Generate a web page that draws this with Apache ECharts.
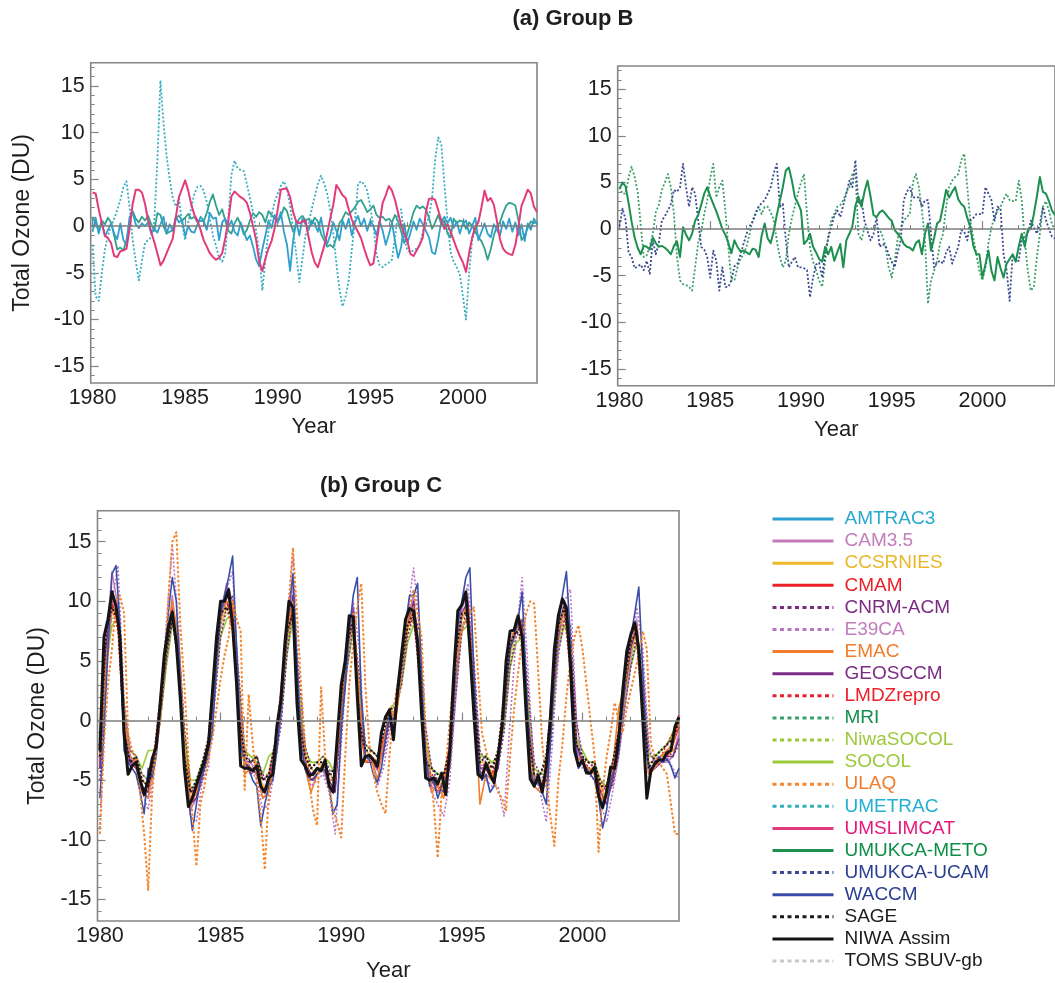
<!DOCTYPE html>
<html>
<head>
<meta charset="utf-8">
<title>Tropical total ozone anomalies</title>
<script src="https://cdn.jsdelivr.net/npm/echarts@6/dist/echarts.min.js"></script>
<style>
  html, body { margin: 0; padding: 0; background: #ffffff; }
  #chart { width: 1055px; height: 983px; }
</style>
</head>
<body>
<div id="chart"></div>
<script>
// ---------- sampling of the time series ----------
const START_YEAR = 1980;
const BIMONTHLY = 1 / 6;   // two-month samples
const QUARTERLY = 1 / 4;   // three-month samples

// ---------- axis ticks ----------
const yearTicks = [1980, 1985, 1990, 1995, 2000];
const yearMinorTicks = [1980, 1981, 1982, 1983, 1984, 1985, 1986, 1987, 1988, 1989, 1990, 1991,
  1992, 1993, 1994, 1995, 1996, 1997, 1998, 1999, 2000, 2001, 2002, 2003, 2004];
const ozoneTicks = [-15, -10, -5, 0, 5, 10, 15];
const ozoneMinorTicks = [-16, -15, -14, -13, -12, -11, -10, -9, -8, -7, -6, -5, -4, -3, -2, -1, 0,
  1, 2, 3, 4, 5, 6, 7, 8, 9, 10, 11, 12, 13, 14, 15, 16, 17];

// ---------- (a) Group B, left frame (DU, two-month samples) ----------
const umslimcat = [
  3.6, 3.5, 1.8, 0.3, -1.0, -1.3,
  -1.8, -3.2, -3.3, -2.7, -2.6, -2.4,
  -0.3, 2.4, 3.9, 3.9, 3.6, 2.4,
  0.6, -0.6, -1.7, -2.9, -4.2, -3.7,
  -2.9, -2.1, -1.3, 1.0, 3.1, 4.0,
  4.9, 3.8, 2.3, 1.2, 0.6, -0.4,
  -1.5, -2.2, -2.9, -3.3, -3.6, -3.4,
  -2.9, -1.3, 0.6, 3.2, 3.7, 3.4,
  3.1, 2.9, 2.5, 1.4, 0.0, -1.5,
  -3.8, -4.8, -3.5, -2.4, -1.6, -0.2,
  1.8, 3.9, 4.0, 4.0, 3.1, 1.5,
  0.5, 0.3, 0.5, 0.6, -1.2, -2.8,
  -3.9, -4.4, -3.3, -2.2, -0.8, 0.8,
  2.3, 4.4, 3.9, 3.3, 3.0, 1.8,
  0.7, 0.0, -0.6, -1.3, -2.4, -3.4,
  -4.2, -4.0, -1.8, 0.4, 2.5, 3.3,
  4.3, 3.8, 2.8, 1.4, 0.1, -0.8,
  -1.6, -3.0, -3.2, -2.6, -2.0, -1.2,
  1.5, 2.9, 3.0, 2.8, 1.7, 0.6,
  -0.3, 0.2, -0.6, -1.5, -2.4, -3.2,
  -3.9, -4.9, -2.9, -1.2, -0.1, 0.4,
  2.0, 3.8, 2.7, 3.0, 2.3, 0.6,
  -1.4, -2.4, -2.8, -3.0, -3.1, -2.0,
  0.0, 2.2, 3.0, 3.9, 3.5, 2.1,
  1.5
];
const umetrac = [
  -2.0, -7.5, -8.0, -5.0, -2.5, -1.0,
  0.0, 0.8, 1.7, 2.8, 4.2, 4.8,
  2.0, -1.5, -3.8, -5.8, -3.7, -1.8,
  -1.5, -1.2, 0.5, 7.0, 15.6, 11.0,
  7.5, 5.0, 3.0, 2.1, 3.0, 0.2,
  -1.5, 0.4, 2.0, 3.5, 4.2, 4.3,
  3.8, 2.6, 0.8, -1.0, -2.1, -3.4,
  -3.8, -2.9, 1.0, 5.5, 7.0, 6.2,
  6.0, 5.9, 4.5, 3.0, 1.5, -0.5,
  -2.8, -6.9, -3.6, -0.5, 1.2, 2.6,
  3.5, 4.3, 4.8, 4.0, 2.2, -0.5,
  -3.0, -6.0, -3.5, -1.0, 0.3, 1.8,
  3.2, 4.5, 5.4, 4.6, 3.5, 1.7,
  -0.8, -4.0, -6.8, -8.6, -7.5, -5.8,
  -2.5, 0.5, 4.5, 4.8, 4.5, 3.8,
  2.0, 0.0, -3.0, -4.2, -4.4, -4.1,
  -3.9, -3.6, -1.2, 1.5, 1.8, -1.3,
  -2.6, -2.8, -2.6, -2.4, -2.0, -0.6,
  0.2, 1.0, 3.0, 7.1, 9.5, 8.8,
  4.5, 0.5, -2.8, -3.8, -4.4, -5.2,
  -7.5, -10.0, -5.0, -1.5, -0.3, 0.6,
  null, null, null, null, null, null,
  null, null, null, null, null, null,
  null, null, null, null, null, null,
  null
];
const amtrac3 = [
  -0.6, 0.9, -0.8, 0.5, -1.1, -0.4,
  0.3, -0.8, -1.4, 0.3, -1.5, -2.0,
  1.0, 1.4, 0.2, -0.2, 0.3, 0.0,
  0.4, -0.8, -0.3, -0.7, 0.2, 1.0,
  -0.8, 0.2, -0.5, 1.0, 0.4, 0.7,
  -1.1, 0.0, -0.6, -0.7, 0.2, 1.0,
  0.6, -0.4, 1.4, 0.8, 0.9, -1.5,
  0.4, 0.8, -0.1, 0.6, -0.6, -1.0,
  0.4, -0.6, -1.5, -1.0, -2.2, -3.6,
  -4.3, -2.5, -1.0, 0.6, -0.2, 1.2,
  0.4, 1.5, -0.6, -2.0, -4.8, -1.5,
  0.5, -1.0, 0.8, 0.2, -0.4, 0.6,
  0.2, -0.6, 0.9, -0.9, -1.9, -1.0,
  0.4, -0.5, -1.5, 0.6, -0.3, 0.8,
  -1.0, 0.4, 1.1, 0.0, 0.8, -0.5,
  0.6, 0.0, -1.0, 0.6, -0.5, -2.0,
  -0.9, 0.4, -1.6, -3.4, -2.2, 0.3,
  -1.8, -0.7, 0.5, -0.4, 0.8, 0.2,
  -0.5, -1.2, -2.8, -3.0, -1.4, 0.5,
  1.0, 0.3, 0.9, -0.2, 0.5, -0.8,
  0.3, 0.6, -0.8, 0.0, 0.9, -1.5,
  -0.6, 0.3, -0.8, -1.2, 0.2, -0.4,
  -1.0, 0.5, -0.3, 0.8, -0.6, 0.4,
  -1.0, 0.2, -1.6, 0.3, -0.4, 0.8,
  0.2
];
const groupBTeal = [
  1.0, 0.3, -0.5, 0.6, 0.2, 0.9,
  0.4, -1.0, -2.5, -2.3, -2.6, -1.5,
  0.5, 1.6, 0.8, 0.4, 1.0, 0.6,
  1.1, 0.2, -0.5, 1.4, 1.2, 0.0,
  -0.8, -0.6, -0.4, 0.9, 1.1, 0.6,
  0.9, 1.3, 0.8, 1.0, 0.4, 0.6,
  0.5, 1.4, 2.6, 3.4, 2.2, 1.2,
  1.8, 0.6, -0.5, -0.8, 0.3, 0.9,
  0.2, -0.9, -0.4, 0.6, 1.4, 1.0,
  1.5, 1.2, 0.4, 1.6, 1.2, 0.8,
  0.5, 1.0, 2.0, 1.6, 0.4, -0.6,
  0.2, 0.8, 1.1, 0.6, 0.8, 0.2,
  0.9, 0.5, -0.8, -1.5, -2.2, -2.0,
  -2.3, -1.2, 0.3, 0.8, 1.5, 1.2,
  1.6, 2.0, 2.6, 2.8, 2.2, 1.5,
  1.8, 2.2, 1.2, 0.9, 1.0, 0.6,
  0.8, 0.4, 1.2, 0.5, -0.6, -1.8,
  -0.8, 0.3, 1.5, 2.2, 1.9, 2.1,
  1.8, 0.9, -0.3, 0.4, 1.2, 0.2,
  0.6, -0.8, -1.2, 0.8, 0.3, 0.6,
  0.5, -0.3, 0.4, 0.0, -0.6, -1.2,
  -1.6, -2.4, -3.6, -2.5, -1.0, 0.0,
  0.4, 1.4, 2.2, 2.5, 2.4, 2.2,
  0.6, -1.5, -1.0, -0.2, 0.5, 0.3,
  0.5
];

// ---------- (a) Group B, right frame (DU, two-month samples) ----------
const umukcaMeto = [
  4.3, 5.0, 4.6, 2.8, 0.8, -0.9,
  -2.0, -2.7, -1.8, -1.9, -2.2, -0.9,
  -1.5, -1.9, -1.8, -2.0, -2.3, -2.7,
  -1.8, -1.3, -3.0, 0.2, -0.6, -1.2,
  -0.5, 0.9, 1.5, 2.6, 3.8, 4.5,
  3.5, 2.7, 1.9, 1.0, 0.0, -0.6,
  -1.5, -2.6, -1.2, -1.9, -2.4, -2.3,
  -2.5, -2.7, -2.1, -2.2, -3.0, -0.7,
  0.6, -1.0, -1.5, -0.2, 1.5, 3.0,
  4.5, 6.3, 6.6, 5.2, 3.4, 2.8,
  2.0, -1.6, -1.2, -0.5, -1.9, -2.5,
  -3.2, -3.5, -1.9, -2.7, -1.9, -3.4,
  -2.5, -1.6, -4.1, -1.2, -0.5, 0.3,
  2.5, 3.5, 2.4, 4.0, 5.2, 3.5,
  1.5, 1.3, 1.8, 2.0, 1.6, 1.2,
  0.9, -0.1, -0.5, -0.9, -1.6, -1.9,
  -2.0, -2.3, -1.5, -1.2, -2.7, -0.5,
  0.6, -2.3, -1.0, 0.6, 0.9, 2.5,
  4.2, 3.4, 4.0, 4.5, 3.2, 2.7,
  2.4, 1.2, 0.2, -1.8, -2.7, -2.7,
  -5.2, -3.8, -2.3, -4.5, -5.5, -3.0,
  -4.2, -5.2, -3.7, -3.2, -2.7, -3.5,
  -1.9, -0.5, -1.9, -0.1, 0.0, 1.6,
  3.5, 5.6, 4.0, 3.8, 3.0, 2.0,
  1.5
];
const umukcaUcam = [
  0.3, 2.2, 1.0, -2.5, -3.0, -4.2,
  -4.0, -3.8, -4.4, -3.4, -4.8, -1.2,
  -2.7, -1.5, 0.9, 1.4, 2.0, 2.7,
  4.2, 4.0, 4.5, 7.0, 4.5, 2.4,
  4.5, 3.8, 1.0, -1.9, -2.2, -3.0,
  -5.2, -2.3, -3.4, -6.6, -4.1, -6.2,
  -6.2, -5.5, -4.0, -3.7, -2.7, -1.6,
  -0.5, 0.3, 0.8, 1.6, 2.4, 2.8,
  3.1, 3.8, 4.5, 6.0, 7.0, 2.4,
  2.7, -1.2, -4.1, -3.5, -3.0, -4.1,
  -4.1, -4.2, -4.4, -7.3, -5.2, -3.8,
  -3.6, -5.2, -2.5, -1.0, 0.2, 1.4,
  2.0, 1.3, 2.6, 3.8, 5.2, 4.5,
  7.4, 2.7, 3.1, 0.9, -0.2, -1.2,
  -0.5, 1.3, -1.9, -1.6, -1.8, -2.7,
  -3.5, -4.1, -2.5, -1.2, 3.1, 4.0,
  4.5, 3.4, 3.4, 3.4, 2.4, 3.1,
  3.1, -0.5, -4.1, -3.6, -3.4, -3.7,
  -2.5, -1.9, -3.7, -2.8, -1.9, -0.1,
  -0.3, -1.2, 0.9, 1.2, 1.6, 1.6,
  1.6, 4.5, 3.8, 3.1, 0.9, 2.4,
  2.2, -2.7, -4.4, -7.7, -2.7, -3.4,
  -3.4, -1.2, -0.8, -0.5, 0.9, 0.2,
  -0.5, 0.5, 2.4, 1.0, 0.0, -0.8,
  -1.0
];
const mri = [
  4.5, 3.8, 3.8, 5.5, 6.7, 5.6,
  4.0, 0.5, -3.0, -2.8, -1.9, -0.5,
  1.8, 2.6, 4.2, 5.0, 5.9, 4.5,
  1.6, -3.0, -5.5, -5.9, -6.0, -6.2,
  -6.6, -4.1, -1.5, -0.3, 1.6, 3.1,
  5.5, 7.0, 3.4, 4.5, 5.2, 2.0,
  -2.0, -5.5, -5.5, -4.1, -3.2, -2.7,
  -1.9, -0.5, 0.9, 1.8, 2.4, 1.6,
  2.4, 2.4, 1.8, 1.0, -1.2, -3.0,
  -4.1, -3.4, -0.5, 1.2, 2.5, 3.8,
  5.0, 5.9, 1.6, -2.0, -3.5, -4.4,
  -5.5, -6.2, -3.4, -0.8, 1.0, 1.6,
  2.4, 2.6, 3.1, 4.0, 4.5, 5.9,
  5.9, -0.5, -1.2, 0.2, 0.0, 0.0,
  0.2, 0.0, 0.0, -0.8, -1.9, -4.1,
  -5.2, -3.4, -1.0, 0.2, 0.9, 1.3,
  1.6, 5.0, 5.9, 4.5, 2.0, -1.2,
  -8.0, -5.5, -4.5, -3.4, -1.5, -0.5,
  2.4, 4.5, 5.2, 5.6, 5.9, 7.4,
  8.1, 4.5, 0.9, -1.0, -2.7, -4.5,
  -5.5, -4.1, -1.5, 0.2, 1.3, 2.0,
  2.4, 3.2, 3.8, 3.1, 3.0, 3.0,
  5.2, 3.1, -1.2, -4.5, -6.6, -6.2,
  -3.0, -0.5, 2.4, 3.0, 2.0, 0.5,
  0.0
];

// ---------- (b) Group C (DU) ----------
// two-month samples
const niwaAssim = [
  -2.5, 7.0, 8.5, 10.8, 9.6, 7.0,
  -1.0, -4.5, -3.8, -3.5, -5.0, -6.2,
  -5.0, -3.2, -2.2, 1.5, 5.5, 7.8,
  9.1, 6.5, 1.8, -4.0, -7.2, -6.5,
  -5.4, -4.4, -3.4, -2.0, 2.5, 7.0,
  10.0, 10.0, 11.0, 8.0, 3.0, -3.8,
  -4.0, -4.0, -4.2, -3.8, -5.5, -6.0,
  -4.8, -4.5, -0.5, 1.7, 6.5, 10.0,
  9.5, 1.5, -3.3, -3.8, -4.6, -4.5,
  -4.0, -4.2, -3.3, -5.5, -6.0, -1.5,
  3.0, 5.0, 8.8, 8.7, 2.0, -3.8,
  -3.0, -2.9, -3.3, -3.8, -1.0, 0.3,
  0.9, -1.6, 2.5, 5.5, 8.5, 9.4,
  9.2, 6.5, 0.5, -4.8, -5.0, -4.8,
  -5.3, -4.4, -6.2, -2.5, 4.0, 9.2,
  9.7, 10.8, 6.0, 0.5, -4.5, -4.8,
  -3.6, -4.5, -5.2, -3.0, -0.5, 5.0,
  7.5, 7.6, 8.8, 7.0, 0.5, -4.9,
  -5.5, -4.6, -6.0, -3.8, 0.0, 6.0,
  8.8, 10.2, 9.5, 4.5, -2.5, -3.8,
  -3.3, -4.4, -4.4, -3.9, -6.3, -7.3,
  -6.0, -3.9, -4.0, -1.5, 2.5, 5.8,
  7.2, 8.2, 6.0, 0.0, -6.5, -4.2,
  -3.6, -3.3, -3.3, -2.7, -2.5, -0.5,
  0.3
];
const waccm = [
  -6.5, -1.0, 6.0, 12.3, 13.0, 8.0,
  -2.5, -3.5, -4.0, -4.5, -6.0, -7.8,
  -4.0, -4.8, -3.0, 0.5, 4.5, 9.0,
  12.0, 10.0, 3.0, -3.5, -6.5, -9.2,
  -7.0, -5.0, -4.0, -2.5, -1.0, 5.0,
  9.0, 10.5, 12.0, 13.8, 6.0, -2.0,
  -3.5, -4.0, -5.0, -5.5, -8.8, -7.0,
  -5.5, -5.0, -2.5, 1.0, 6.0, 9.5,
  12.3, 5.0, -2.0, -4.0, -4.8, -5.0,
  -4.5, -4.0, -4.2, -5.5, -7.8, -7.0,
  -1.0, 3.0, 7.5, 10.5, 12.0, 2.0,
  -3.0, -3.2, -4.5, -5.2, -4.0, -1.5,
  0.5, 0.0, 2.0, 5.0, 8.0, 10.5,
  10.5, 11.5, 4.0, -3.0, -5.5, -5.0,
  -6.5, -5.5, -5.0, -3.0, 2.0, 8.0,
  10.0, 12.0, 12.8, 4.0, -3.5, -5.0,
  -4.5, -6.0, -5.5, -3.5, -1.0, 3.0,
  6.0, 7.0, 8.5, 10.8, 3.0, -4.0,
  -5.5, -5.0, -6.0, -7.0, -2.0, 4.0,
  8.0, 10.5, 12.5, 7.0, -1.0, -4.0,
  -3.5, -4.0, -4.5, -5.0, -6.5, -9.0,
  -7.5, -5.0, -4.0, -2.5, 1.5, 5.0,
  7.0, 9.0, 11.2, 4.0, -3.0, -4.5,
  -3.5, -3.0, -3.5, -3.2, -3.8, -4.8,
  -4.0
];
const ulaq = [
  -9.5, -2.0, 3.0, 6.0, 10.0, 10.5,
  9.0, -1.0, -2.5, -3.0, -6.0, -9.5,
  -14.2, -6.0, -2.5, 0.0, 4.0, 10.0,
  15.0, 15.8, 8.0, 3.0, -3.0, -8.0,
  -12.2, -7.0, -5.5, -3.0, -1.5, 1.0,
  3.5, 5.5, 7.0, 10.0, 8.5, 7.5,
  -5.8, 2.2, -2.0, -5.0, -8.0, -12.5,
  -6.0, -4.0, -1.0, 2.5, 6.0, 10.0,
  14.5, 9.0, 3.0, -2.0, -5.0, -7.5,
  -8.8, 2.8, -3.0, -5.5, -7.5, -8.5,
  -9.8, -3.0, 3.0, 6.5, 9.5, 11.5,
  3.0, -2.0, -4.5, -6.0, -7.0, -7.8,
  -3.0, 1.0, 3.0, 5.0, 7.5, 9.5,
  11.0, 9.0, 7.0, -1.0, -4.0, -7.0,
  -11.5, -6.0, -4.0, 0.0, 3.5, 6.0,
  7.5, 8.5, 9.0, 9.5, 4.0, -1.0,
  -2.5, -4.0, -5.0, -6.0, -6.5, -7.5,
  -3.0, 1.0, 4.0, 7.0, 9.0, 10.0,
  9.8, 4.0, -2.0, -5.0, -8.0, -10.5,
  -5.0, -2.0, 2.0, 5.0, 7.0, 8.0,
  6.0, 3.0, 0.0, -3.0, -11.0, -6.0,
  -3.0, -1.0, 1.5, 0.0, -1.0, 1.0,
  2.5, 4.0, 5.5, 7.5, 6.0, -2.0,
  -3.0, -3.5, -4.0, -4.5, -7.0, -9.5,
  -9.5
];
// three-month samples
const sage = [
  -3.0, 7.5, 9.5, 8.5,  -1.0, -3.5, -3.0, -5.0,  -5.5, -3.0, 1.0, 6.0,  8.5, 5.0, -3.0, -6.0,
  -5.0, -3.5, -1.5, 4.0,  9.0, 9.5, 8.5, 0.5,  -3.0, -3.5, -3.0, -5.0,  -4.5, -2.0, 2.0, 7.5,
  9.0, 0.0, -3.0, -4.0,  -3.5, -3.5, -4.5, -4.0,  2.0, 6.5, 8.5, 0.0,  -2.5, -2.5, -3.0, -1.0,
  1.0, 1.0, 4.5, 8.0,  9.0, 4.5, -3.5, -4.0,  -4.5, -4.5, -2.5, 5.5,  9.0, 9.0, 2.0, -3.5,
  -3.0, -4.0, -2.5, 1.5,  6.5, 7.5, 7.0, -1.0,  -4.5, -4.5, -3.0, 2.5,  8.0, 9.5, 5.5, -2.0,
  -3.0, -3.5, -3.5, -5.5,  -5.5, -3.5, -1.0, 3.5,  6.5, 7.5, 1.5, -4.0,  -3.0, -2.5, -2.0, -1.5,
  0.0
];
const tomsSbuv = [
  -2.0, 7.5, 10.0, 8.0,  -1.5, -4.0, -3.5, -5.0,  -5.0, -2.5, 1.5, 6.5,  9.0, 4.0, -3.5, -6.5,
  -5.0, -3.5, -2.0, 4.5,  9.5, 10.0, 7.5, -0.5,  -4.0, -4.0, -3.5, -5.5,  -4.5, -2.5, 1.5, 8.0,
  9.0, -1.0, -3.5, -4.5,  -4.0, -3.5, -5.0, -3.5,  3.0, 7.0, 8.5, -1.0,  -3.0, -3.0, -3.5, -0.5,
  1.0, 0.5, 5.0, 8.5,  9.0, 3.5, -4.5, -4.5,  -5.0, -5.0, -2.5, 6.5,  9.5, 8.0, 0.5, -4.5,
  -3.5, -4.5, -3.0, 2.0,  7.0, 8.0, 7.0, -2.0,  -5.0, -5.0, -3.5, 3.0,  8.5, 9.5, 4.5, -3.0,
  -3.5, -4.0, -4.0, -6.5,  -6.0, -4.0, -1.5, 4.0,  7.0, 7.0, 0.0, -5.0,  -3.5, -3.0, -2.5, -1.5,
  0.5
];
const cam35 = [
  -4.0, 6.0, 12.5, 9.5,  -1.5, -3.8, -3.2, -5.8,  -6.5, -3.0, 1.0, 6.0,  10.5, 6.0, -3.0, -7.5,
  -6.5, -4.0, -2.5, 3.5,  9.0, 11.5, 10.0, 1.0,  -3.5, -3.5, -4.5, -6.5,  -6.0, -2.8, 1.0, 7.5,
  11.5, 1.0, -3.5, -4.5,  -4.5, -4.2, -5.5, -5.5,  1.5, 6.5, 9.5, 1.0,  -3.0, -3.0, -4.2, -2.0,
  0.0, 0.5, 4.5, 8.5,  10.5, 5.0, -3.5, -5.5,  -6.0, -5.5, -3.5, 5.0,  9.5, 10.5, 2.0, -4.0,
  -4.0, -5.0, -3.5, 1.0,  6.5, 8.0, 8.5, -0.5,  -5.0, -5.5, -5.5, 1.5,  7.5, 10.0, 6.5, -2.5,
  -3.5, -4.0, -4.5, -6.5,  -7.0, -4.5, -2.0, 3.0,  6.5, 8.5, 1.5, -4.5,  -3.8, -3.5, -3.5, -3.0,
  -1.0
];
const ccsrnies = [
  -3.0, 5.5, 9.0, 9.5,  0.5, -3.0, -3.5, -5.0,  -5.5, -3.5, 0.5, 5.5,  9.5, 7.5, -1.5, -6.0,
  -6.0, -4.5, -2.5, 2.5,  8.0, 9.5, 10.0, 3.0,  -3.0, -4.0, -4.0, -5.5,  -5.5, -3.0, 0.5, 6.5,
  10.0, 2.5, -3.0, -4.0,  -4.5, -3.5, -4.5, -5.0,  0.5, 5.5, 8.5, 3.0,  -2.5, -3.0, -3.5, -2.5,
  0.5, 0.0, 3.5, 7.5,  9.5, 6.5, -2.0, -5.0,  -5.5, -5.0, -3.5, 3.5,  8.5, 9.5, 3.5, -3.5,
  -3.5, -4.5, -3.5, 0.0,  5.5, 7.5, 8.0, 1.0,  -4.5, -5.0, -5.0, 0.5,  6.5, 9.0, 7.0, -1.5,
  -3.5, -4.0, -4.0, -5.5,  -6.5, -5.0, -2.5, 2.0,  5.5, 7.5, 3.0, -3.5,  -3.5, -3.0, -3.0, -2.5,
  -1.5
];
const cmam = [
  -3.5, 6.5, 10.0, 8.0,  -1.0, -3.5, -4.0, -5.5,  -6.0, -3.0, 1.0, 6.0,  9.5, 5.0, -3.5, -7.0,
  -6.0, -4.0, -2.0, 4.0,  9.5, 10.0, 8.5, 0.5,  -3.5, -4.5, -4.0, -6.0,  -5.0, -3.0, 1.0, 7.5,
  10.0, 0.0, -3.5, -5.0,  -4.5, -4.0, -5.0, -5.0,  2.0, 6.5, 9.0, 0.0,  -3.5, -3.5, -4.0, -1.5,
  0.5, 0.0, 4.5, 8.5,  9.5, 4.0, -4.0, -5.0,  -6.0, -5.0, -3.0, 5.5,  9.0, 9.5, 1.5, -4.5,
  -4.0, -5.0, -3.0, 1.5,  6.5, 8.0, 7.5, -1.0,  -5.0, -5.5, -4.5, 2.0,  8.0, 9.5, 5.5, -2.5,
  -3.5, -4.5, -4.0, -6.5,  -6.5, -4.5, -2.0, 3.5,  6.5, 7.5, 1.0, -4.5,  -4.0, -3.5, -3.0, -2.0,
  -0.5
];
const cnrmAcm = [
  -5.0, 4.5, 9.5, 9.0,  1.0, -2.5, -3.0, -4.5,  -5.0, -3.5, 0.0, 5.0,  8.5, 7.0, -0.5, -5.5,
  -6.5, -5.0, -3.0, 1.5,  7.0, 9.5, 10.5, 4.0,  -2.5, -3.5, -3.0, -4.5,  -5.5, -3.5, -0.5, 5.5,
  9.5, 4.0, -2.0, -4.0,  -3.5, -3.0, -4.0, -5.5,  -0.5, 4.5, 8.0, 4.0,  -2.0, -2.5, -3.0, -3.0,
  -0.5, 1.0, 3.0, 7.0,  9.0, 7.5, -0.5, -4.0,  -5.0, -5.5, -4.0, 2.0,  7.5, 9.5, 5.0, -2.5,
  -3.5, -4.0, -4.0, -1.0,  4.5, 7.0, 8.5, 2.5,  -3.5, -4.5, -5.0, -1.0,  5.5, 8.5, 8.0, 0.0,
  -3.0, -3.5, -4.0, -5.0,  -6.0, -5.5, -3.0, 1.0,  4.5, 7.0, 4.5, -2.5,  -3.5, -3.0, -2.5, -3.0,
  -2.0
];
const e39ca = [
  -9.0, 3.0, 10.0, 13.0,  2.0, -3.0, -4.0, -6.0,  -7.5, -4.0, 1.0, 8.0,  14.8, 8.0, -3.0, -8.0,
  -8.5, -5.0, -4.0, 2.0,  8.0, 11.0, 12.5, 3.0,  -3.0, -4.0, -5.0, -7.5,  -7.0, -4.0, 0.0, 8.0,
  14.0, 2.0, -4.0, -5.5,  -5.0, -4.5, -6.0, -9.5,  -2.0, 5.0, 10.0, 6.0,  -3.0, -3.5, -5.5, -4.0,
  -1.0, 0.5, 4.0, 9.0,  12.8, 8.0, -2.0, -6.0,  -7.0, -8.0, -5.0, 2.0,  9.0, 11.5, 5.0, -3.5,
  -5.0, -5.5, -5.5, -8.0,  0.0, 7.0, 12.0, 4.0,  -4.5, -6.0, -8.5, -2.0,  6.0, 10.0, 11.0, 0.0,
  -4.0, -4.5, -5.0, -7.0,  -8.5, -6.0, -3.0, 1.0,  5.0, 9.5, 6.0, -2.0,  -4.0, -3.5, -3.0, -4.0,
  -5.0
];
const emac = [
  -3.0, 5.0, 9.5, 9.0,  0.0, -3.0, -3.5, -6.0,  -6.5, -3.5, 1.5, 6.0,  10.0, 6.5, -2.5, -7.0,
  -6.0, -4.0, -1.5, 3.5,  8.5, 10.0, 9.5, 2.0,  -4.5, -4.0, -4.0, -6.5,  -6.0, -3.5, 2.5, 7.5,
  10.0, 1.0, -4.0, -6.0,  -4.5, -4.0, -5.0, -5.0,  1.5, 6.0, 9.0, 2.0,  -3.5, -3.0, -5.0, -2.0,
  1.0, 0.0, 4.0, 8.0,  9.5, 5.0, -4.0, -6.0,  -5.5, -6.5, -3.0, 4.5,  9.0, 9.5, 3.0, -7.0,
  -4.5, -5.0, -3.5, 1.0,  6.0, 8.5, 7.5, -1.0,  -5.5, -6.0, -4.5, 2.0,  7.5, 9.5, 6.0, -3.0,
  -3.5, -4.0, -4.5, -6.5,  -6.5, -4.0, 1.0, 3.0,  6.5, 8.0, 1.5, -4.5,  -4.0, -3.0, -2.5, -2.0,
  0.0
];
const geosccm = [
  -4.0, 6.0, 10.5, 9.0,  -0.5, -3.5, -3.5, -5.5,  -6.0, -3.5, 0.5, 5.5,  9.5, 6.0, -3.0, -7.0,
  -6.5, -4.5, -2.5, 3.0,  8.5, 10.5, 9.5, 1.5,  -3.5, -4.0, -4.5, -6.0,  -5.5, -3.0, 0.5, 7.0,
  10.5, 1.5, -3.5, -4.5,  -4.0, -4.0, -5.0, -6.0,  1.0, 6.0, 9.5, 1.5,  -3.0, -3.5, -4.0, -2.5,
  0.0, 0.5, 4.0, 8.0,  10.0, 5.5, -3.0, -5.0,  -5.5, -6.0, -3.5, 4.0,  9.0, 10.0, 2.5, -4.0,
  -4.0, -5.0, -4.0, 0.5,  6.0, 8.0, 8.0, 0.0,  -5.0, -5.5, -5.0, 1.0,  7.0, 10.0, 6.0, -2.0,
  -3.5, -4.0, -4.5, -6.0,  -7.0, -5.0, -2.0, 2.5,  6.0, 8.0, 2.5, -4.0,  -4.0, -3.5, -3.0, -3.0,
  -1.5
];
const lmdzRepro = [
  -3.0, 7.0, 9.5, 7.5,  -1.0, -3.0, -4.0, -5.0,  -5.5, -2.5, 2.0, 6.5,  9.0, 4.5, -3.0, -6.0,
  -5.5, -3.5, -1.5, 4.5,  9.0, 9.5, 7.5, 0.0,  -4.0, -3.5, -3.5, -5.0,  -4.5, -2.0, 2.0, 7.5,
  9.0, -0.5, -3.5, -4.0,  -3.5, -3.5, -4.5, -4.0,  2.5, 6.5, 8.0, -0.5,  -3.0, -3.0, -3.5, -0.5,
  1.0, 1.0, 5.0, 8.0,  8.5, 3.5, -4.0, -4.5,  -5.0, -4.5, -2.0, 6.0,  9.0, 8.0, 1.0, -4.0,
  -3.5, -4.5, -2.5, 2.5,  7.0, 7.5, 6.5, -2.0,  -5.0, -4.5, -3.5, 3.0,  8.0, 9.0, 4.0, -3.0,
  -3.0, -4.0, -3.5, -6.0,  -5.5, -3.5, -1.0, 4.0,  6.5, 6.5, 0.5, -4.5,  -3.5, -3.0, -2.0, -1.0,
  0.5
];
const niwaSocol = [
  -3.5, 5.0, 8.5, 9.0,  1.0, -2.5, -3.0, -4.5,  -5.0, -3.0, 0.5, 5.0,  8.5, 6.5, -1.5, -5.5,
  -5.5, -4.0, -2.5, 2.5,  7.5, 9.0, 9.0, 3.0,  -2.5, -3.0, -3.0, -4.5,  -4.5, -2.5, 0.5, 6.0,
  9.0, 2.0, -2.5, -3.5,  -3.5, -3.0, -3.5, -4.5,  0.5, 5.0, 8.0, 2.5,  -2.0, -2.5, -3.0, -2.0,
  0.5, 1.0, 3.5, 7.0,  8.5, 6.0, -1.5, -4.0,  -4.5, -4.5, -3.0, 3.5,  8.0, 8.5, 3.0, -3.0,
  -3.0, -3.5, -3.0, 0.0,  5.0, 7.0, 7.0, 1.0,  -4.0, -4.5, -4.0, 0.5,  6.5, 8.5, 6.0, -1.5,
  -2.5, -3.5, -3.5, -5.0,  -5.5, -4.5, -2.0, 2.0,  5.0, 7.0, 2.5, -3.0,  -3.0, -2.5, -2.0, -1.5,
  -0.5
];
const socol = [
  -4.0, 4.5, 8.0, 8.5,  1.5, -2.5, -3.0, -4.0,  -2.5, -2.5, 0.0, 4.5,  8.0, 7.0, -1.0, -5.0,
  -5.0, -3.5, -3.0, 2.0,  7.0, 8.5, 9.0, 3.5,  -2.5, -3.0, -3.5, -4.5,  -3.0, -2.5, 0.0, 5.5,
  8.5, 2.5, -2.5, -3.5,  -3.5, -3.0, -3.5, -4.5,  0.0, 4.5, 7.5, 3.0,  -2.0, -2.5, -3.0, -2.5,
  1.0, 1.5, 3.0, 6.5,  8.0, 6.5, -1.5, -4.0,  -4.5, -4.5, -3.0, 3.0,  7.5, 8.0, 3.5, -3.0,
  -3.0, -3.5, -3.0, -0.5,  4.5, 6.5, 7.0, 1.5,  -4.0, -4.5, -4.5, 0.0,  6.0, 8.0, 6.5, -1.5,
  -2.5, -3.5, -3.5, -5.0,  -5.5, -4.5, -2.5, 1.5,  4.5, 6.5, 3.0, -3.0,  -3.0, -2.5, -2.0, -1.0,
  0.0
];

// ---------- legend ----------
const legendNames = ['AMTRAC3', 'CAM3.5', 'CCSRNIES', 'CMAM', 'CNRM-ACM', 'E39CA', 'EMAC', 'GEOSCCM',
  'LMDZrepro', 'MRI', 'NiwaSOCOL', 'SOCOL', 'ULAQ', 'UMETRAC', 'UMSLIMCAT', 'UMUKCA-METO',
  'UMUKCA-UCAM', 'WACCM', 'SAGE', 'NIWA Assim', 'TOMS SBUV-gb'];
const legendTextColors = ['#2aa8d0', '#c47cbb', '#eab72a', '#ea2128', '#7a2c80', '#c27cbd', '#f07d2c',
  '#7b2d84', '#ea2128', '#12904a', '#9bc93c', '#9bc93c', '#f07d2c', '#22afd1', '#e6197b', '#0f8e48',
  '#2c4093', '#2c4093', '#1c1c1c', '#1c1c1c', '#1c1c1c'];
const legendDotted = [false, false, false, false, true, true, false, false, true, true, true, false,
  true, true, false, false, true, false, true, false, true];

// ---------- styling ----------
const FONT = '"Liberation Sans", Arial, Helvetica, sans-serif';
const TEXT = '#1e1e1e';
const FRAME = '#858585';
const DOT = [2, 2];

const frames = [
  { left: 90.7, top: 62.7, width: 446.3, height: 320.3, ymin: -16.8, ymax: 17.5,
    yName: 'Total Ozone (DU)', yNameGap: 57, xNameGap: 33 },
  { left: 617.7, top: 66, width: 446.3, height: 319.7, ymin: -16.8, ymax: 17.5,
    yName: '', yNameGap: 57, xNameGap: 33 },
  { left: 97.5, top: 510.7, width: 581.5, height: 417.3, ymin: -16.8, ymax: 17.6,
    yName: 'Total Ozone (DU)', yNameGap: 40, xNameGap: 39 }
];
const X_MIN = 1979.9, X_MAX = 2004.0;

const grids = [], xAxes = [], yAxes = [];
frames.forEach((f, g) => {
  grids.push({ left: f.left, top: f.top, width: f.width, height: f.height,
    show: true, borderColor: FRAME, borderWidth: 1.6, backgroundColor: 'transparent', containLabel: false });
  // major x ticks with labels
  xAxes.push({ type: 'value', gridIndex: g, position: 'bottom', min: X_MIN, max: X_MAX,
    axisLine: { show: false }, splitLine: { show: false },
    axisTick: { show: true, inside: true, length: 8, customValues: yearTicks, lineStyle: { color: FRAME, width: 1.2 } },
    axisLabel: { customValues: yearTicks, formatter: v => String(v), fontFamily: FONT, fontSize: 21.5, color: TEXT, margin: 4 },
    name: 'Year', nameLocation: 'middle', nameGap: f.xNameGap,
    nameTextStyle: { fontFamily: FONT, fontSize: 22, color: TEXT } });
  // minor x ticks
  xAxes.push({ type: 'value', gridIndex: g, position: 'bottom', min: X_MIN, max: X_MAX,
    axisLine: { show: false }, splitLine: { show: false }, axisLabel: { show: false },
    axisTick: { show: true, inside: true, length: 4, customValues: yearMinorTicks, lineStyle: { color: FRAME, width: 1 } } });
  // major y ticks with labels
  yAxes.push({ type: 'value', gridIndex: g, position: 'left', min: f.ymin, max: f.ymax,
    axisLine: { show: false }, splitLine: { show: false },
    axisTick: { show: true, inside: true, length: 8, customValues: ozoneTicks, lineStyle: { color: FRAME, width: 1.2 } },
    axisLabel: { customValues: ozoneTicks, fontFamily: FONT, fontSize: 21.5, color: TEXT, margin: 6 },
    name: f.yName, nameLocation: 'middle', nameGap: f.yNameGap, nameRotate: 90,
    nameTextStyle: { fontFamily: FONT, fontSize: 23, color: TEXT } });
  // minor y ticks
  yAxes.push({ type: 'value', gridIndex: g, position: 'left', min: f.ymin, max: f.ymax,
    axisLine: { show: false }, splitLine: { show: false }, axisLabel: { show: false },
    axisTick: { show: true, inside: true, length: 4,
      customValues: ozoneMinorTicks.filter(v => v > f.ymin && v < f.ymax), lineStyle: { color: FRAME, width: 1 } } });
});

const zeroLine = {
  silent: true, symbol: ['none', 'none'], label: { show: false }, animation: false,
  lineStyle: { color: '#7c7c7c', width: 1.6, type: 'solid' }, data: [{ yAxis: 0 }]
};

function series(name, values, step, frame, color, width, dash, withZero) {
  const s = {
    type: 'line', name, xAxisIndex: frame * 2, yAxisIndex: frame * 2,
    data: values.map((v, i) => [START_YEAR + i * step, v]),
    showSymbol: false, symbol: 'none', smooth: false, connectNulls: false, clip: true,
    lineStyle: { color, width, type: dash || 'solid', cap: 'butt', join: 'round' },
    itemStyle: { color }, emphasis: { disabled: true }, animation: false
  };
  if (withZero) s.markLine = zeroLine;
  return s;
}

const allSeries = [
  // (a) left frame
  series('Group B teal', groupBTeal, BIMONTHLY, 0, '#33a08e', 1.8),
  series('AMTRAC3', amtrac3, BIMONTHLY, 0, '#2e9fcf', 1.8),
  series('UMETRAC', umetrac, BIMONTHLY, 0, '#37adc0', 1.8, DOT),
  series('UMSLIMCAT', umslimcat, BIMONTHLY, 0, '#e33a7c', 2.0, null, true),
  // (a) right frame
  series('MRI', mri, BIMONTHLY, 1, '#3c9f6a', 1.8, DOT),
  series('UMUKCA-UCAM', umukcaUcam, BIMONTHLY, 1, '#3a4990', 1.8, DOT),
  series('UMUKCA-METO', umukcaMeto, BIMONTHLY, 1, '#1d8f4f', 2.0, null, true),
  // (b)
  series('TOMS SBUV-gb', tomsSbuv, QUARTERLY, 2, '#c9c9c9', 1.6, DOT, true),
  series('CCSRNIES', ccsrnies, QUARTERLY, 2, '#eeb82a', 1.6),
  series('SOCOL', socol, QUARTERLY, 2, '#9bc93c', 1.6),
  series('NiwaSOCOL', niwaSocol, QUARTERLY, 2, '#9bc93c', 1.5, DOT),
  series('CMAM', cmam, QUARTERLY, 2, '#ea2128', 1.5),
  series('LMDZrepro', lmdzRepro, QUARTERLY, 2, '#ea2128', 1.5, DOT),
  series('CAM3.5', cam35, QUARTERLY, 2, '#c47cbb', 1.5),
  series('GEOSCCM', geosccm, QUARTERLY, 2, '#7b2d84', 1.5),
  series('CNRM-ACM', cnrmAcm, QUARTERLY, 2, '#7a2c80', 1.5, DOT),
  series('EMAC', emac, QUARTERLY, 2, '#f07d2c', 1.6),
  series('E39CA', e39ca, QUARTERLY, 2, '#b975c2', 1.6, DOT),
  series('WACCM', waccm, BIMONTHLY, 2, '#3a4ea8', 1.6),
  series('ULAQ', ulaq, BIMONTHLY, 2, '#f3862e', 2.0, [2.5, 2]),
  series('SAGE', sage, QUARTERLY, 2, '#1a1a1a', 2.0, DOT),
  series('NIWA Assim', niwaAssim, BIMONTHLY, 2, '#141414', 3.0)
];

const option = {
  backgroundColor: '#ffffff',
  animation: false,
  textStyle: { fontFamily: FONT },
  grid: grids,
  xAxis: xAxes,
  yAxis: yAxes,
  legend: {
    orient: 'vertical', left: 771, top: 509.5, padding: 0,
    itemWidth: 61, itemHeight: 14, itemGap: 3.1, selectedMode: false,
    itemStyle: { opacity: 0 },
    textStyle: { fontFamily: FONT, fontSize: 19, lineHeight: 19, padding: [0, 0, 0, 6] },
    data: legendNames.map((n, i) => ({
      name: n,
      itemStyle: { opacity: 0 },
      textStyle: { color: legendTextColors[i] },
      lineStyle: { width: 3, type: legendDotted[i] ? [4, 3.5] : 'solid' }
    }))
  },
  graphic: [
    { type: 'text', x: 573, y: 19, style: { text: '(a) Group B', fill: TEXT,
      font: 'bold 22px ' + FONT, textAlign: 'center', textVerticalAlign: 'middle' } },
    { type: 'text', x: 381, y: 486, style: { text: '(b) Group C', fill: TEXT,
      font: 'bold 22px ' + FONT, textAlign: 'center', textVerticalAlign: 'middle' } }
  ],
  series: allSeries
};

const chart = echarts.init(document.getElementById('chart'), null, { renderer: 'canvas' });
chart.setOption(option);
</script>
</body>
</html>
